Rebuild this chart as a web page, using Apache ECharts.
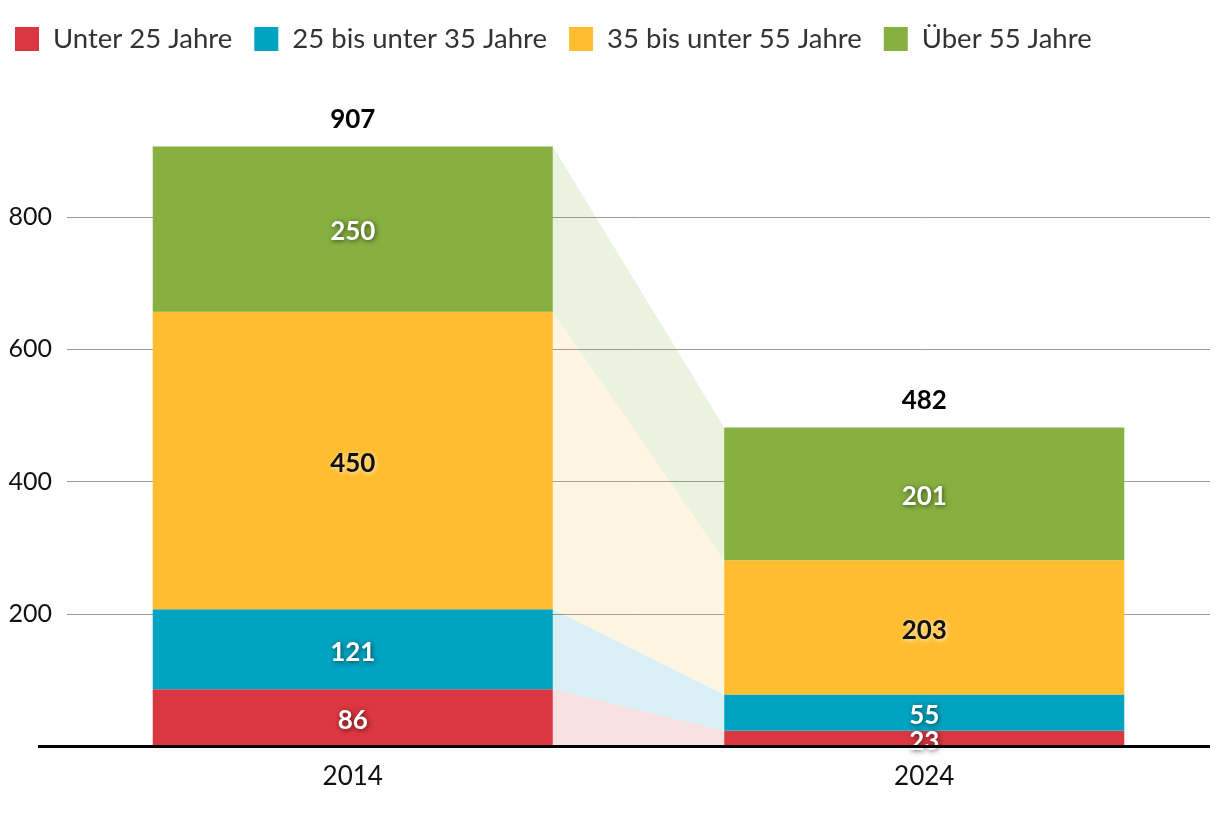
<!DOCTYPE html>
<html><head><meta charset="utf-8">
<script src="https://cdn.jsdelivr.net/npm/echarts@6/dist/echarts.min.js"></script>
<style>html,body{margin:0;padding:0;background:#fff}#c{width:1220px;height:814px}</style>
</head><body><div id="c"></div>
<script>
const categories = ['2014', '2024'];
const seriesNames = ['Unter 25 Jahre', '25 bis unter 35 Jahre', '35 bis unter 55 Jahre', 'Über 55 Jahre'];
const under25 = [86, 23];
const from25to35 = [121, 55];
const from35to55 = [450, 203];
const over55 = [250, 201];
const totals = [907, 482];
const yTicks = [0, 200, 400, 600, 800];

const colors = ['#da3740', '#00a3c1', '#ffbd2f', '#87b040'];
const bandColors = ['rgba(218,55,64,0.15)', 'rgba(0,163,193,0.15)', 'rgba(255,189,47,0.15)', 'rgba(135,176,64,0.16)'];
const textColors = ['#fff', '#fff', '#111', '#fff'];
const values = [under25, from25to35, from35to55, over55];
const FONT = 'Lato';

// bands: [bottom2014, top2014, bottom2024, top2024, index]
const bandData = [];
let acc = [0, 0];
values.forEach((arr, k) => {
  bandData.push([acc[0], acc[0] + arr[0], acc[1], acc[1] + arr[1], k]);
  acc = [acc[0] + arr[0], acc[1] + arr[1]];
});

const barSeries = values.map((arr, k) => ({
  name: seriesNames[k],
  type: 'bar',
  stack: 'total',
  barWidth: '70%',
  z: 3,
  itemStyle: { color: colors[k] },
  data: arr,
  label: {
    show: true,
    position: 'inside',
    offset: [0, 3],
    fontFamily: FONT,
    fontWeight: 'bold',
    fontSize: 26,
    color: textColors[k],
    textShadowColor: k === 2 ? 'rgba(255,255,255,0.8)' : 'rgba(0,0,0,0.6)',
    textShadowBlur: 5,
    textShadowOffsetX: 1,
    textShadowOffsetY: 1
  },
  emphasis: { disabled: true }
}));

const option = {
  animation: false,
  textStyle: { fontFamily: FONT },
  color: colors,
  legend: {
    left: 10, top: 20,
    itemWidth: 24, itemHeight: 24, itemGap: 22,
    icon: 'rect',
    textStyle: { fontSize: 27.5, color: '#333', fontFamily: FONT, padding: [0, 0, 0, 9] },
    data: seriesNames
  },
  grid: { left: 67, right: 10, top: 85, bottom: 68, containLabel: false },
  xAxis: {
    type: 'category',
    data: categories,
    axisLine: { show: false },
    axisTick: { show: false },
    axisLabel: { fontSize: 26, color: '#111', margin: 18, fontFamily: FONT }
  },
  yAxis: {
    type: 'value',
    min: 0, max: 1000, interval: 200,
    axisLine: { show: false },
    axisTick: { show: false },
    axisLabel: {
      fontSize: 25, color: '#111', margin: 15, fontFamily: FONT,
      showMaxLabel: false,
      formatter: v => (yTicks.indexOf(v) > 0 ? String(v) : '')
    },
    splitLine: { showMaxLine: false, lineStyle: { color: '#999', width: 1 } }
  },
  series: [
    {
      type: 'custom',
      z: 1,
      silent: true,
      data: bandData,
      renderItem: (params, api) => {
        const w = api.size([1, 0])[0] * 0.7;
        const a0 = api.coord([0, api.value(0)]);
        const a1 = api.coord([0, api.value(1)]);
        const b0 = api.coord([1, api.value(2)]);
        const b1 = api.coord([1, api.value(3)]);
        const xa = a0[0] + w / 2, xb = b0[0] - w / 2;
        return {
          type: 'polygon',
          shape: { points: [[xa, a1[1]], [xb, b1[1]], [xb, b0[1]], [xa, a0[1]]] },
          style: { fill: bandColors[api.value(4)] }
        };
      }
    },
    ...barSeries,
    {
      name: 'Summe',
      type: 'bar',
      stack: 'total',
      barWidth: '70%',
      data: [0, 0],
      z: 4,
      label: {
        show: true,
        position: 'top',
        distance: 14,
        fontFamily: FONT,
        fontWeight: 'bold',
        fontSize: 26,
        color: '#000',
        formatter: p => String(totals[p.dataIndex])
      },
      emphasis: { disabled: true }
    }
  ]
};

const chart = echarts.init(document.getElementById('c'));
chart.setOption(option);
const p0 = chart.convertToPixel({ gridIndex: 0 }, [0, 0]);
chart.setOption({
  graphic: [{
    type: 'line', z: 10,
    shape: { x1: 38, y1: p0[1] + 0.5, x2: 1210, y2: p0[1] + 0.5 },
    style: { stroke: '#000', lineWidth: 3 }
  }]
});
</script></body></html>
